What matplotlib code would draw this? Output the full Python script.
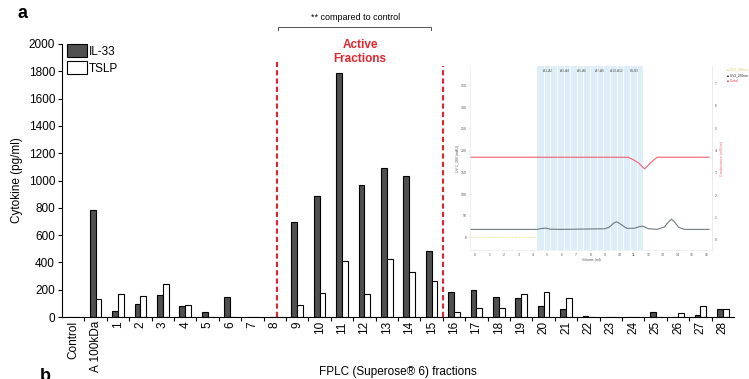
import numpy as np
import matplotlib
matplotlib.use('Agg')
from matplotlib import pyplot as plt
from matplotlib.ticker import FixedLocator

plt.rcParams['font.family'] = ['Liberation Sans', 'DejaVu Sans']

categories = ['Control', 'A 100kDa'] + [str(i) for i in range(1, 29)]
il33 = [0, 785, 44, 95, 161, 80, 37, 147, 0, 0,
        698, 886, 1788, 967, 1094, 1033, 486,
        185, 198, 149, 137, 83, 56, 7, 0, 0, 39, 0, 17, 59]
tslp = [0, 132, 168, 154, 242, 88, 0, 0, 0, 0,
        88, 173, 410, 166, 423, 332, 262,
        34, 64, 64, 166, 181, 137, 0, 0, 0, 0, 27, 81, 56]

# inset chromatogram (estimated from the tiny picture)
pink_x = [-0.35, 10.6, 10.9, 11.3, 11.74, 12.15, 12.6, 16.2]
pink_y = [184.7, 184.7, 180, 172, 158, 172, 184.7, 184.7]
gray_x = [-0.35, 4.3, 4.6, 4.9, 5.2, 6, 8, 9, 9.3, 9.6, 9.8, 10.1, 10.5, 11, 11.4,
          11.6, 12, 12.6, 13.1, 13.4, 13.6, 13.8, 14.1, 14.5, 16.2]
gray_y = [18.5, 18.5, 20.5, 21.5, 19, 18.5, 19.5, 20, 24, 33, 36, 30, 21, 21, 25,
          26, 20, 18.5, 24, 36, 42, 36, 23, 18.5, 18.5]
yellow_x = [-0.35, 4.3]
yellow_y = [0, 0]
frac_labels = ['A1-A2', 'A3-A4', 'A5-A6', 'A7-A9', 'A10-A12', 'B1-B3']

fig = plt.figure(figsize=(7.49, 3.79), dpi=100)
ax = fig.add_axes([62/749, 1-317/379, 672/749, 273/379])

x = np.arange(len(categories))
w = 0.26
ax.bar(x - w/2, il33, w, color='#505050', edgecolor='black', linewidth=0.8, label='IL-33')
ax.bar(x + w/2, tslp, w, color='white', edgecolor='black', linewidth=0.8, label='TSLP')

ax.set_xlim(-0.5, len(categories) - 0.5)
ax.set_ylim(0, 2000)
ax.set_yticks(range(0, 2001, 200))
ax.set_xticks(x)
ax.set_xticklabels(categories, rotation=90, fontsize=8.5)
ax.xaxis.set_minor_locator(FixedLocator(x[:-1] + 0.5))
ax.tick_params(axis='x', which='major', length=0, pad=3)
ax.tick_params(axis='x', which='minor', length=3, width=0.8)
ax.tick_params(axis='y', labelsize=8.5, length=3, width=0.8, pad=2)
for s in ['top', 'right']:
    ax.spines[s].set_visible(False)
ax.spines['left'].set_linewidth(0.8)
ax.spines['bottom'].set_linewidth(0.8)

ax.set_ylabel('Cytokine (pg/ml)', fontsize=8.5, labelpad=4)
ax.set_xlabel('FPLC (Superose\u00ae 6) fractions', fontsize=8.5)
ax.xaxis.set_label_coords(0.5, -0.178)

leg = ax.legend(loc='upper left', bbox_to_anchor=(0.007, 1.0), frameon=False,
                fontsize=8.5, handlelength=1.7, handleheight=1.35,
                handletextpad=0.2, labelspacing=0.3, borderpad=0, borderaxespad=0)

red = '#e3262e'
ax.vlines(9.1, 0, 1870, colors=red, linestyles=(0, (2.5, 1.5)), linewidth=1.5)
ax.vlines(16.5, 0, 1840, colors=red, linestyles=(0, (2.5, 1.5)), linewidth=1.5)

fig.text(360/749, 1-52/379, 'Active\nFractions', color=red, fontsize=8.5,
         fontweight='bold', ha='center', va='center', linespacing=1.25)
fig.text(356/749, 1-18/379, '** compared to control', fontsize=6.5, ha='center', va='center')
fig.lines.append(plt.Line2D([278/749, 278/749, 431/749, 431/749],
                            [1-30/379, 1-26.7/379, 1-26.7/379, 1-30/379],
                            transform=fig.transFigure, color='#555555', linewidth=0.7))
fig.text(17/749, 1-13/379, 'a', fontsize=13, fontweight='bold', ha='left', va='center')
fig.text(40/749, 1-368/379, 'b', fontsize=13, fontweight='bold', ha='left', va='top')

# inset
ia = fig.add_axes([470/749, 1-250/379, 242/749, 184/379])
ia.set_xlim(-0.35, 16.4)
ia.set_ylim(-29, 395)
ia.axvspan(4.28, 11.65, color='#ddeef8', lw=0)
for sx in np.linspace(4.28, 11.65, 17)[1:-1]:
    ia.axvline(sx, color='white', lw=0.6)
ia.plot(pink_x, pink_y, color='#f06070', lw=0.8)
ia.plot(gray_x, gray_y, color='#707a80', lw=0.8)
ia.plot(yellow_x, yellow_y, color='#f2eaa0', lw=0.6, ls='--')
ia.set_xticks(range(0, 17))
ia.set_yticks(range(0, 351, 50))
ia.tick_params(labelsize=2.5, length=1, width=0.3, color='#aaaaaa', labelcolor='#555555', pad=1)
ia.set_xlabel('Volume (ml)', fontsize=2.5, labelpad=1, color='#555555')
ia.set_ylabel('UV 1_280 (mAU)', fontsize=2.5, labelpad=1, color='#555555')
for s in ia.spines.values():
    s.set_color('#e6e6e6')
    s.set_linewidth(0.4)
ia.spines['top'].set_visible(False)
for lab, lx in zip(frac_labels, np.linspace(5.0, 11.0, 6)):
    ia.text(lx, 383, lab, fontsize=2.3, ha='center', va='center', color='#555555')
ra = ia.twinx()
ra.set_ylim(-0.45, 7.77)
ra.set_yticks(range(0, 8))
ra.tick_params(labelsize=2.5, length=1, width=0.3, color='#aaaaaa', labelcolor='#555555', pad=1)
ra.set_ylabel('Conductance (mS/cm)', fontsize=2.5, color='#f06070', labelpad=2)
for s in ra.spines.values():
    s.set_visible(False)
ra.spines['right'].set_visible(True)
ra.spines['right'].set_color('#e6e6e6')
ra.spines['right'].set_linewidth(0.4)

fig.text(727/749, 1-69/379, '\u25a0 UV1_280nm', fontsize=2.3, color='#d8cf70', va='center')
fig.text(727/749, 1-75/379, '\u25a0 UV2_260nm', fontsize=2.3, color='#222222', va='center')
fig.text(727/749, 1-81/379, '\u25a0 Cond', fontsize=2.3, color='#e03040', va='center')

fig.savefig('out.png', dpi=100)
